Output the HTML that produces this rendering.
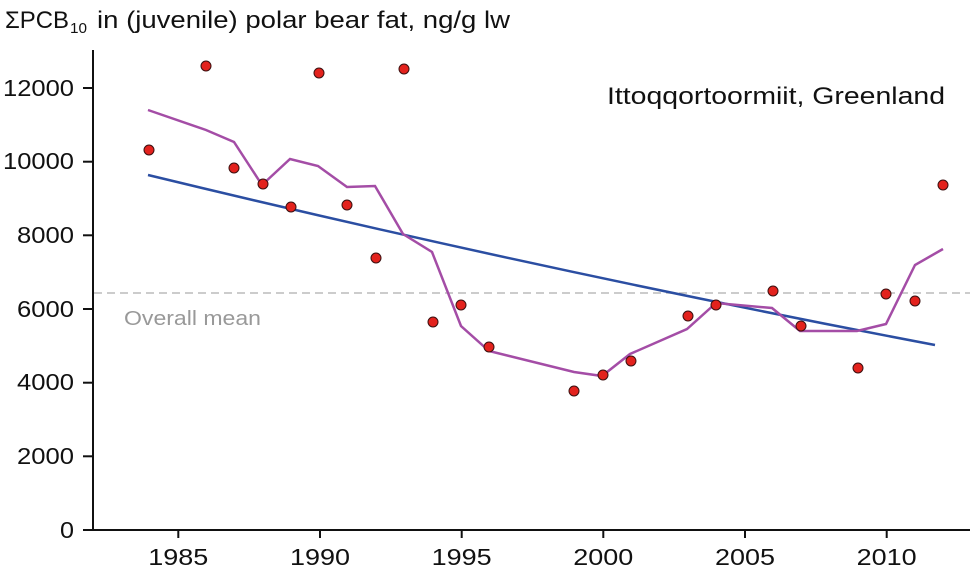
<!DOCTYPE html>
<html><head><style>body{margin:0;background:#fff}svg{display:block}text{font-family:"Liberation Sans",sans-serif;fill:#111}</style></head><body>
<svg width="970" height="572" xmlns="http://www.w3.org/2000/svg">
<text x="5" y="28" font-size="24" textLength="64" lengthAdjust="spacingAndGlyphs">ΣPCB</text>
<text x="70" y="33" font-size="15" textLength="17" lengthAdjust="spacingAndGlyphs">10</text>
<text x="97" y="28" font-size="24" textLength="413" lengthAdjust="spacingAndGlyphs">in (juvenile) polar bear fat, ng/g lw</text>
<text x="607" y="104" font-size="24" textLength="338" lengthAdjust="spacingAndGlyphs">Ittoqqortoormiit, Greenland</text>
<line x1="93" y1="50" x2="93" y2="531" stroke="#111" stroke-width="2"/>
<line x1="92" y1="530" x2="970" y2="530" stroke="#111" stroke-width="2"/>
<g stroke="#111" stroke-width="2">
<line x1="83" y1="530" x2="93" y2="530"/><line x1="83" y1="456.3" x2="93" y2="456.3"/><line x1="83" y1="382.7" x2="93" y2="382.7"/><line x1="83" y1="309" x2="93" y2="309"/><line x1="83" y1="235.3" x2="93" y2="235.3"/><line x1="83" y1="161.7" x2="93" y2="161.7"/><line x1="83" y1="88" x2="93" y2="88"/>
<line x1="178.3" y1="530" x2="178.3" y2="538"/><line x1="320" y1="530" x2="320" y2="538"/><line x1="461.7" y1="530" x2="461.7" y2="538"/><line x1="603.3" y1="530" x2="603.3" y2="538"/><line x1="745" y1="530" x2="745" y2="538"/><line x1="886.7" y1="530" x2="886.7" y2="538"/>
</g>
<g font-size="23" text-anchor="end">
<text x="74" y="538" textLength="14" lengthAdjust="spacingAndGlyphs">0</text>
<text x="74" y="464" textLength="57" lengthAdjust="spacingAndGlyphs">2000</text>
<text x="74" y="390" textLength="57" lengthAdjust="spacingAndGlyphs">4000</text>
<text x="74" y="317" textLength="57" lengthAdjust="spacingAndGlyphs">6000</text>
<text x="74" y="243" textLength="57" lengthAdjust="spacingAndGlyphs">8000</text>
<text x="74" y="169" textLength="71" lengthAdjust="spacingAndGlyphs">10000</text>
<text x="74" y="96" textLength="71" lengthAdjust="spacingAndGlyphs">12000</text>
</g>
<g font-size="23" text-anchor="middle">
<text x="178.3" y="565" textLength="60" lengthAdjust="spacingAndGlyphs">1985</text>
<text x="320" y="565" textLength="60" lengthAdjust="spacingAndGlyphs">1990</text>
<text x="461.7" y="565" textLength="60" lengthAdjust="spacingAndGlyphs">1995</text>
<text x="603.3" y="565" textLength="60" lengthAdjust="spacingAndGlyphs">2000</text>
<text x="745" y="565" textLength="60" lengthAdjust="spacingAndGlyphs">2005</text>
<text x="886.7" y="565" textLength="60" lengthAdjust="spacingAndGlyphs">2010</text>
</g>
<line x1="94" y1="293" x2="970" y2="293" stroke="#bbb" stroke-width="1.5" stroke-dasharray="8,5"/>
<text x="124" y="325" font-size="20" textLength="137" lengthAdjust="spacingAndGlyphs" style="fill:#999">Overall mean</text>
<path d="M148,175 Q540,270 935,345" fill="none" stroke="#2b4ea2" stroke-width="2.5"/>
<polyline points="148,110 206,130 234,142 262,185 290,159 318,166 347,187 375,186 403,234 432,252 461,326 489,351 574,372 602,376 630,354 687,329 716,303 772,308 800,331 857,331 886,324 915,265 943,249" fill="none" stroke="#a44da6" stroke-width="2.5"/>
<g fill="#e3221d" stroke="#3a1010" stroke-width="1">
<circle cx="149" cy="150" r="5"/><circle cx="206" cy="66" r="5"/><circle cx="234" cy="168" r="5"/><circle cx="263" cy="184" r="5"/><circle cx="291" cy="207" r="5"/><circle cx="319" cy="73" r="5"/><circle cx="347" cy="205" r="5"/><circle cx="376" cy="258" r="5"/><circle cx="404" cy="69" r="5"/><circle cx="433" cy="322" r="5"/><circle cx="461" cy="305" r="5"/><circle cx="489" cy="347" r="5"/><circle cx="574" cy="391" r="5"/><circle cx="603" cy="375" r="5"/><circle cx="631" cy="361" r="5"/><circle cx="688" cy="316" r="5"/><circle cx="716" cy="305" r="5"/><circle cx="773" cy="291" r="5"/><circle cx="801" cy="326" r="5"/><circle cx="858" cy="368" r="5"/><circle cx="886" cy="294" r="5"/><circle cx="915" cy="301" r="5"/><circle cx="943" cy="185" r="5"/>
</g>
</svg>
</body></html>
